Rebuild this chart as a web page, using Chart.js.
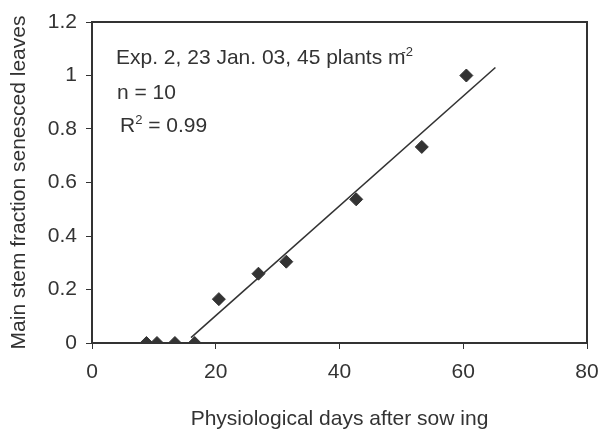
<!DOCTYPE html>
<html>
<head>
<meta charset="utf-8">
<script src="https://cdn.jsdelivr.net/npm/chart.js@4/dist/chart.umd.min.js"></script>
<style>
  html, body { margin: 0; padding: 0; background: #fff; }
  #wrap { width: 601px; height: 434px; }
</style>
</head>
<body>
<div id="wrap"><canvas id="senescence" width="601" height="434"></canvas></div>
<script>
// observed points
var days = [8.8, 10.5, 13.4, 16.6, 20.5, 26.9, 31.4, 42.7, 53.3, 60.5];
var fraction = [0, 0, 0, 0, 0.164, 0.259, 0.304, 0.537, 0.733, 1.0];
// fitted line ends
var fitDays = [16.0, 65.2];
var fitFraction = [0.02, 1.03];
// axis ticks
var xTicks = [0, 20, 40, 60, 80];
var yTicks = [0, 0.2, 0.4, 0.6, 0.8, 1, 1.2];

var INK = '#333';
var FONT = 'Liberation Sans, Arial, sans-serif';

function pairs(xs, ys) {
	return xs.map(function (x, i) { return { x: x, y: ys[i] }; });
}

// box on top/right + text block in the upper left
var frameAndNotes = {
	id: 'frameAndNotes',
	afterDraw: function (chart) {
		var ctx = chart.ctx, a = chart.chartArea;
		ctx.save();
		ctx.strokeStyle = INK;
		ctx.lineWidth = 2;
		ctx.beginPath();
		ctx.moveTo(a.left, a.top);
		ctx.lineTo(a.right, a.top);
		ctx.lineTo(a.right, a.bottom);
		ctx.stroke();

		ctx.fillStyle = INK;
		ctx.textBaseline = 'alphabetic';
		ctx.font = '21px ' + FONT;
		var s = 'Exp. 2, 23 Jan. 03, 45 plants m';
		ctx.fillText(s, 116, 64);
		var w = ctx.measureText(s).width;
		ctx.font = '13px ' + FONT;
		ctx.fillText('-2', 116 + w - 4, 56);

		ctx.font = '21px ' + FONT;
		ctx.fillText('n = 10', 117, 99);

		ctx.fillText('R', 120, 132);
		var rw = ctx.measureText('R').width;
		ctx.font = '13px ' + FONT;
		ctx.fillText('2', 120 + rw, 124);
		var sw = ctx.measureText('2').width;
		ctx.font = '21px ' + FONT;
		ctx.fillText(' = 0.99', 120 + rw + sw, 132);
		ctx.restore();
	}
};

var chart = new Chart(document.getElementById('senescence'), {
	type: 'scatter',
	data: {
		datasets: [
			{
				data: pairs(days, fraction),
				pointStyle: 'rectRot',
				pointRadius: 6.5,
				pointBackgroundColor: INK,
				pointBorderColor: INK,
				pointBorderWidth: 1,
				showLine: false
			},
			{
				data: pairs(fitDays, fitFraction),
				showLine: true,
				borderColor: INK,
				borderWidth: 1.6,
				pointRadius: 0,
				fill: false
			}
		]
	},
	options: {
		responsive: false,
		animation: false,
		events: [],
		layout: { padding: { left: 0, top: 22, right: 14, bottom: 0 } },
		plugins: {
			legend: { display: false },
			tooltip: { enabled: false }
		},
		scales: {
			x: {
				type: 'linear',
				min: 0,
				max: 80,
				afterBuildTicks: function (scale) {
					scale.ticks = xTicks.map(function (v) { return { value: v }; });
				},
				afterFit: function (scale) {
					scale.height = 91;
					scale.paddingLeft = 0;
					scale.paddingRight = 0;
				},
				grid: { drawOnChartArea: false, drawTicks: true, tickLength: 6, color: INK, tickWidth: 1 },
				border: { display: true, color: INK, width: 2 },
				ticks: { color: INK, font: { family: FONT, size: 21 }, padding: 11, maxRotation: 0 },
				title: {
					display: true,
					text: 'Physiological days after sow ing',
					color: INK,
					font: { family: FONT, size: 21 },
					padding: { top: 0, bottom: 2 }
				}
			},
			y: {
				type: 'linear',
				min: 0,
				max: 1.2,
				afterBuildTicks: function (scale) {
					scale.ticks = yTicks.map(function (v) { return { value: v }; });
				},
				afterFit: function (scale) {
					scale.width = 92;
					scale.paddingTop = 0;
					scale.paddingBottom = 0;
				},
				grid: { drawOnChartArea: false, drawTicks: true, tickLength: 6, color: INK, tickWidth: 1 },
				border: { display: true, color: INK, width: 2 },
				ticks: {
					color: INK,
					font: { family: FONT, size: 21 },
					padding: 9,
					callback: function (v) { return String(Math.round(v * 10) / 10); }
				},
				title: {
					display: true,
					text: 'Main stem fraction senesced leaves',
					color: INK,
					font: { family: FONT, size: 21 },
					padding: { top: 7, bottom: 0 }
				}
			}
		}
	},
	plugins: [frameAndNotes]
});
</script>
</body>
</html>
